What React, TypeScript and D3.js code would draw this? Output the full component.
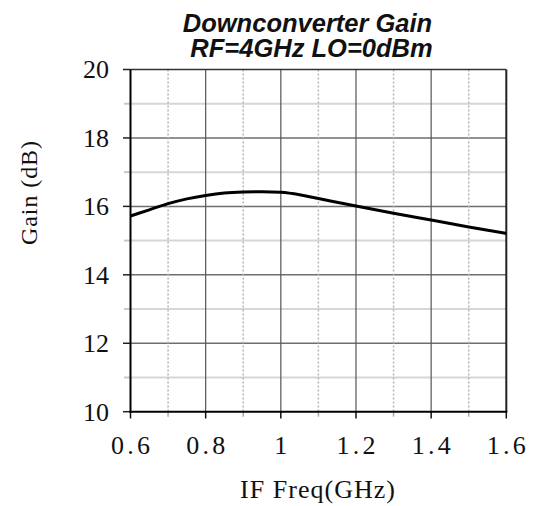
import React from "react";
import * as d3 from "d3";

const freqGHz = [0.6, 0.65, 0.7, 0.75, 0.8, 0.85, 0.9, 0.95, 1.0, 1.05, 1.1, 1.2, 1.3, 1.4, 1.5, 1.6];
const gainDb = [15.72, 15.9, 16.08, 16.22, 16.32, 16.39, 16.42, 16.43, 16.41, 16.34, 16.23, 16.01, 15.8, 15.6, 15.4, 15.21];
const xMajorTicks = [0.6, 0.8, 1.0, 1.2, 1.4, 1.6];
const xMinorTicks = [0.7, 0.9, 1.1, 1.3, 1.5];
const yMajorTicks = [10, 12, 14, 16, 18, 20];
const yMinorTicks = [11, 13, 15, 17, 19];
const titleLines = ["Downconverter Gain", "RF=4GHz LO=0dBm"];
const xTitle = "IF Freq(GHz)";
const yTitle = "Gain (dB)";

export default function App() {
  const x = d3.scaleLinear().domain([0.6, 1.6]).range([130.5, 506.3]);
  const y = d3.scaleLinear().domain([10, 20]).range([411.7, 69.5]);
  const pts: [number, number][] = freqGHz.map((f, i) => [f, gainDb[i]]);
  const line = d3
    .line<[number, number]>()
    .x((d) => x(d[0]))
    .y((d) => y(d[1]))
    .curve(d3.curveMonotoneX);
  const [x0, x1] = x.range();
  const [y0, y1] = y.range();
  const fmtX = (v: number) => (v === 1 ? "1" : v.toFixed(1));
  const serif = "'Liberation Serif', 'Times New Roman', serif";
  return (
    <svg
      width={537}
      height={506}
      style={{ position: "absolute", left: 0, top: 0, background: "#fff" }}
    >
      {/* title */}
      {titleLines.map((t, i) => (
        <text
          key={t}
          x={i === 0 ? 307.5 : 311.5}
          y={i === 0 ? 31.5 : 57}
          textAnchor="middle"
          fontFamily="'Liberation Sans', Arial, sans-serif"
          fontWeight="bold"
          fontStyle="italic"
          fontSize={25.5}
          fill="#111"
        >
          {t}
        </text>
      ))}
      {/* horizontal minor grid */}
      {yMinorTicks.map((v) => (
        <g key={"ym" + v}>
          <line x1={x0} x2={x1} y1={y(v)} y2={y(v)} stroke="#d6d6d6" strokeWidth={2} />
          <line x1={124} x2={x0} y1={y(v)} y2={y(v)} stroke="#c8c8c8" strokeWidth={2} />
        </g>
      ))}
      {/* horizontal major grid */}
      {yMajorTicks.map((v) => (
        <g key={"yM" + v}>
          {v !== 10 && v !== 20 && (
            <line x1={x0} x2={x1} y1={y(v)} y2={y(v)} stroke="#6e6e6e" strokeWidth={1.5} />
          )}
          <line x1={123} x2={x0} y1={y(v)} y2={y(v)} stroke="#222" strokeWidth={1.5} />
          <text
            x={109}
            y={y(v)}
            dy="0.34em"
            textAnchor="end"
            fontFamily={serif}
            fontSize={26}
            fill="#111"
          >
            {v}
          </text>
        </g>
      ))}
      {/* vertical minor grid */}
      {xMinorTicks.map((v) => (
        <g key={"xm" + v}>
          <line
            x1={x(v)}
            x2={x(v)}
            y1={y1}
            y2={y0}
            stroke="#b4b4b4"
            strokeWidth={1.5}
            strokeDasharray="2,2"
          />
          <line x1={x(v)} x2={x(v)} y1={y0} y2={416.7} stroke="#aaa" strokeWidth={1.5} />
        </g>
      ))}
      {/* vertical major grid */}
      {xMajorTicks.map((v) => (
        <g key={"xM" + v}>
          {v !== 0.6 && v !== 1.6 && (
            <line x1={x(v)} x2={x(v)} y1={y1} y2={y0} stroke="#555" strokeWidth={1.2} />
          )}
          <line x1={x(v)} x2={x(v)} y1={y0} y2={418.5} stroke="#111" strokeWidth={1.5} />
          {v === 1 ? (
            <text x={x(v)} y={453.5} textAnchor="middle" fontFamily={serif} fontSize={26} fill="#111">
              {fmtX(v)}
            </text>
          ) : (
            <text
              x={x(v) - 19.5}
              y={453.5}
              textLength={39}
              lengthAdjust="spacing"
              fontFamily={serif}
              fontSize={26}
              fill="#111"
            >
              {fmtX(v)}
            </text>
          )}
        </g>
      ))}
      {/* frame */}
      <line x1={x0} x2={x1} y1={y1} y2={y1} stroke="#333" strokeWidth={1.5} />
      <line x1={x1} x2={x1} y1={y1} y2={y0} stroke="#222" strokeWidth={2} />
      <line x1={x0} x2={x0} y1={y1} y2={y0 + 1} stroke="#000" strokeWidth={2} />
      <line x1={x0 - 1} x2={x1 + 1} y1={y0} y2={y0} stroke="#000" strokeWidth={2} />
      {/* curve */}
      <path d={line(pts) || ""} fill="none" stroke="#000" strokeWidth={3} />
      {/* axis titles */}
      <text
        x={240}
        y={497.5}
        textLength={155}
        lengthAdjust="spacing"
        fontFamily={serif}
        fontSize={26}
        fill="#111"
      >
        {xTitle}
      </text>
      <text
        transform="translate(37,193) rotate(-90)"
        x={-52}
        y={0}
        textLength={104}
        lengthAdjust="spacing"
        fontFamily={serif}
        fontSize={24}
        fill="#111"
      >
        {yTitle}
      </text>
    </svg>
  );
}
